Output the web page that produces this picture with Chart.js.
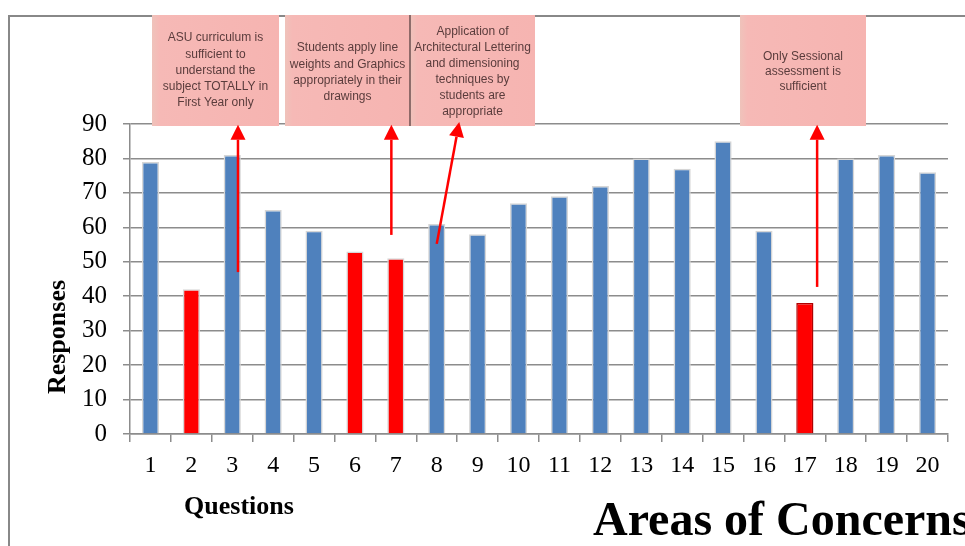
<!DOCTYPE html>
<html>
<head>
<meta charset="utf-8">
<title>Areas of Concerns</title>
<script src="https://cdn.jsdelivr.net/npm/chart.js@4"></script>
<style>
  html, body { margin: 0; padding: 0; background: #ffffff; }
  #wrap { width: 965px; height: 546px; }
</style>
</head>
<body>
<div id="wrap"><canvas id="chart" width="965" height="546"></canvas></div>
<script>
// Survey questions 1..20 and the number of responses for each
const questions = ['1','2','3','4','5','6','7','8','9','10','11','12','13','14','15','16','17','18','19','20'];
const responses = [79, 42, 81, 65, 59, 53, 51, 61, 58, 67, 69, 72, 80, 77, 85, 59, 38, 80, 81, 76];
// Questions flagged as areas of concern (drawn in red)
const concernQuestions = ['2', '6', '7', '17'];
const yTicks = [0, 10, 20, 30, 40, 50, 60, 70, 80, 90];

const BLUE = '#4f81bd';
const RED = '#ff0000';

const barColors = questions.map(q => concernQuestions.includes(q) ? RED : BLUE);
const barBorders = questions.map(q => q === '17' ? '#b00000' : '#d6d6d6');

// Callout notes: a box at the top of the figure, an arrow from a bar up to it
const notes = [
  { box: [152, 15, 279, 126], lines: ['ASU curriculum is', 'sufficient to', 'understand the', 'subject TOTALLY in', 'First Year only'], firstLine: 38, lineGap: 16.2,
    arrow: { from: [2, 0.14, 47], to: [2, 0.14, 89.8] } },
  { box: [285, 15, 410, 126], lines: ['Students apply line', 'weights and Graphics', 'appropriately in their', 'drawings'], firstLine: 48, lineGap: 16.3,
    arrow: { from: [6, -0.11, 57.8], to: [6, -0.11, 89.8] } },
  { box: [410, 15, 535, 126], lines: ['Application of', 'Architectural Lettering', 'and dimensioning', 'techniques by', 'students are', 'appropriate'], firstLine: 32, lineGap: 16,
    arrow: { from: [7, 0.0, 55.2], to: [7, 0.55, 90.6] }, divider: true },
  { box: [740, 15, 866, 126], lines: ['Only Sessional', 'assessment is', 'sufficient'], firstLine: 57, lineGap: 15,
    arrow: { from: [16, 0.3, 42.7], to: [16, 0.3, 89.8] } }
];

function notePoint(chart, p) {
  const xs = chart.scales.x, ys = chart.scales.y;
  const step = xs.getPixelForValue(1) - xs.getPixelForValue(0);
  return [xs.getPixelForValue(p[0]) + p[1] * step, ys.getPixelForValue(p[2])];
}

function drawArrow(ctx, x1, y1, x2, y2) {
  const ang = Math.atan2(y2 - y1, x2 - x1);
  const headLen = 15, headHalf = 7.5;
  const bx = x2 - headLen * Math.cos(ang), by = y2 - headLen * Math.sin(ang);
  ctx.strokeStyle = RED;
  ctx.fillStyle = RED;
  ctx.lineWidth = 2.5;
  ctx.beginPath();
  ctx.moveTo(x1, y1);
  ctx.lineTo(bx, by);
  ctx.stroke();
  ctx.beginPath();
  ctx.moveTo(x2, y2);
  ctx.lineTo(bx + headHalf * Math.sin(ang), by - headHalf * Math.cos(ang));
  ctx.lineTo(bx - headHalf * Math.sin(ang), by + headHalf * Math.cos(ang));
  ctx.closePath();
  ctx.fill();
}

const decorations = {
  id: 'decorations',
  beforeDraw(chart) {
    const ctx = chart.ctx;
    ctx.save();
    ctx.fillStyle = '#ffffff';
    ctx.fillRect(0, 0, chart.width, chart.height);
    // outer frame (left and top edges)
    ctx.strokeStyle = '#888888';
    ctx.lineWidth = 2;
    ctx.beginPath();
    ctx.moveTo(9, chart.height);
    ctx.lineTo(9, 16);
    ctx.lineTo(chart.width, 16);
    ctx.stroke();
    ctx.restore();
  },
  afterDraw(chart) {
    const ctx = chart.ctx;
    ctx.save();
    // callout boxes
    notes.forEach(n => {
      const [x1, y1, x2, y2] = n.box;
      const g = ctx.createLinearGradient(x1, 0, x2, 0);
      g.addColorStop(0, '#efc3bb');
      g.addColorStop(0.06, '#f6b9b6');
      g.addColorStop(1, '#f6b4b1');
      ctx.fillStyle = g;
      ctx.fillRect(x1, y1, x2 - x1, y2 - y1);
      if (n.divider) {
        ctx.strokeStyle = '#6e5050';
        ctx.lineWidth = 1.5;
        ctx.beginPath();
        ctx.moveTo(x1, y1);
        ctx.lineTo(x1, y2);
        ctx.stroke();
      }
    });
    ctx.filter = 'blur(0.5px)';
    ctx.fillStyle = '#5a3c3c';
    ctx.font = '12px "Liberation Sans", Arial, sans-serif';
    ctx.textAlign = 'center';
    ctx.textBaseline = 'middle';
    notes.forEach(n => {
      const cx = (n.box[0] + n.box[2]) / 2;
      n.lines.forEach((t, i) => ctx.fillText(t, cx, n.firstLine + i * n.lineGap));
    });
    ctx.filter = 'none';
    // arrows from the flagged bars to their notes
    notes.forEach(n => {
      const a = notePoint(chart, n.arrow.from);
      const b = notePoint(chart, n.arrow.to);
      drawArrow(ctx, a[0], a[1], b[0], b[1]);
    });
    // axis titles and caption
    ctx.fillStyle = '#000000';
    ctx.font = 'bold 26px "Liberation Serif", "Times New Roman", serif';
    ctx.textAlign = 'center';
    ctx.textBaseline = 'middle';
    ctx.fillText('Questions', 239, 507);
    ctx.save();
    ctx.translate(58, 337);
    ctx.rotate(-Math.PI / 2);
    ctx.fillText('Responses', 0, 0);
    ctx.restore();
    ctx.font = 'bold 48px "Liberation Serif", "Times New Roman", serif';
    ctx.textAlign = 'left';
    ctx.textBaseline = 'alphabetic';
    ctx.fillText('Areas of Concerns', 593, 535);
    ctx.restore();
  }
};

new Chart(document.getElementById('chart'), {
  type: 'bar',
  data: {
    labels: questions,
    datasets: [{
      label: 'Responses',
      data: responses,
      backgroundColor: barColors,
      borderColor: barBorders,
      borderWidth: 1.5,
      barPercentage: 0.42,
      categoryPercentage: 1.0
    }]
  },
  options: {
    responsive: false,
    animation: false,
    events: [],
    layout: { padding: { left: 0, right: 17, top: 124, bottom: 0 } },
    plugins: {
      legend: { display: false },
      tooltip: { enabled: false },
      title: { display: false }
    },
    scales: {
      x: {
        offset: true,
        grid: { drawOnChartArea: false, drawTicks: true, tickLength: 8, offset: true, color: '#8c8c8c', lineWidth: 1.5 },
        border: { color: '#8c8c8c', width: 1.5 },
        ticks: {
          color: '#000000',
          padding: 9,
          maxRotation: 0,
          autoSkip: false,
          font: { family: '"Liberation Serif", "Times New Roman", serif', size: 24 }
        },
        afterFit(scale) { scale.height = 112; }
      },
      y: {
        min: 0,
        max: 90,
        afterBuildTicks(scale) { scale.ticks = yTicks.map(v => ({ value: v })); },
        grid: { color: '#8c8c8c', lineWidth: 1.5, drawTicks: true, tickLength: 7 },
        border: { color: '#8c8c8c', width: 1.5 },
        ticks: {
          color: '#000000',
          padding: 16,
          font: { family: '"Liberation Serif", "Times New Roman", serif', size: 25 }
        },
        afterFit(scale) { scale.width = 130; }
      }
    }
  },
  plugins: [decorations]
});
</script>
</body>
</html>
